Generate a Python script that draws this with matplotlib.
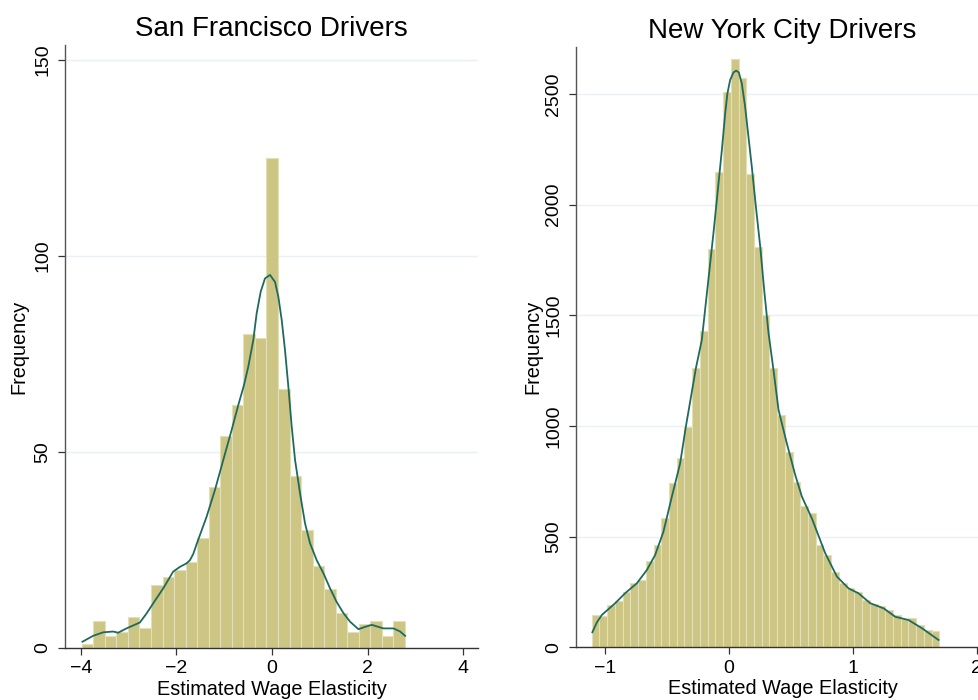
import numpy as np
import matplotlib
matplotlib.use("Agg")
import matplotlib.pyplot as plt

plt.rcParams['font.family'] = ['Liberation Sans', 'DejaVu Sans']

# ---------------- data ----------------
sf_title = "San Francisco Drivers"
nyc_title = "New York City Drivers"
x_label = "Estimated Wage Elasticity"
y_label = "Frequency"

sf_bin_start = -3.98
sf_bin_width = 0.2415
sf_counts = [1, 7, 3, 4, 8, 5, 16, 18, 20, 22, 28, 41, 54, 62, 80, 79, 125,
             66, 44, 30, 21, 15, 9, 4, 6, 7, 3, 7]
sf_kde_x = [-3.965, -3.742, -3.532, -3.323, -3.218, -3.044, -2.764, -2.625, -2.485,
            -2.276, -2.067, -1.927, -1.787, -1.717, -1.647, -1.577, -1.368, -1.194,
            -1.019, -0.845, -0.705, -0.586, -0.496, -0.391, -0.321, -0.237, -0.147,
            -0.042, 0.063, 0.133, 0.203, 0.272, 0.342, 0.412, 0.482, 0.586, 0.691,
            0.796, 0.935, 1.075, 1.215, 1.350, 1.494, 1.634, 1.808, 1.948, 2.087,
            2.331, 2.541, 2.681, 2.785]
sf_kde_y = [1.6, 3.1, 4.0, 4.2, 3.9, 5.0, 6.5, 8.8, 11.4,
            15.2, 19.5, 20.7, 21.6, 22.4, 24.0, 26.5, 33.5, 40.3,
            48.0, 55.6, 62.0, 67.1, 71.8, 78.6, 85.4, 90.9, 94.3,
            95.2, 93.4, 89.6, 83.7, 76.0, 66.7, 56.5, 48.0, 39.5, 31.8,
            26.7, 22.4, 19.1, 15.2, 11.8, 8.9, 6.7, 4.8, 5.4, 5.9,
            5.0, 5.0, 4.2, 3.1]
sf_xticks = [-4, -2, 0, 2, 4]
sf_yticks = [0, 50, 100, 150]

nyc_bin_start = -1.110
nyc_bin_width = 0.0624
nyc_counts = [146, 141, 191, 211, 251, 289, 304, 390, 462, 585, 741, 854, 996,
              1260, 1430, 1798, 2146, 2507, 2656, 2570, 2137, 1810, 1501, 1260,
              1049, 881, 748, 638, 605, 462, 417, 339, 289, 266, 251, 214, 196,
              187, 168, 146, 126, 131, 101, 78, 74]
nyc_kde_x = [-1.105, -1.070, -1.029, -0.921, -0.841, -0.746, -0.665, -0.598, -0.531,
             -0.463, -0.396, -0.350, -0.269, -0.221, -0.127, -0.086, -0.059, -0.032,
             -0.014, 0.008, 0.035, 0.057, 0.078, 0.102, 0.129, 0.156, 0.183, 0.216,
             0.251, 0.283, 0.318, 0.358, 0.399, 0.466, 0.534, 0.588, 0.668, 0.776,
             0.871, 0.965, 1.045, 1.140, 1.248, 1.342, 1.450, 1.558, 1.692]
nyc_kde_y = [68, 111, 146, 199, 244, 289, 349, 417, 522,
             680, 831, 996, 1260, 1388, 1870, 2096, 2246, 2412,
             2502, 2563, 2597, 2605, 2597, 2548, 2442, 2306, 2171, 1990,
             1810, 1614, 1420, 1253, 1072, 921, 778, 680, 583, 425,
             319, 266, 244, 199, 176, 138, 123, 86, 33]
nyc_xticks = [-1, 0, 1, 2]
nyc_yticks = [0, 500, 1000, 1500, 2000, 2500]

# ---------------- style ----------------
BAR = '#CCC584'
BAR_EDGE = '#E3DFB6'
LINE = '#1F6A5E'
GRID = '#EAF0F3'

fig = plt.figure(figsize=(9.79, 7.0), dpi=100)
ax1 = fig.add_axes([0.0664, 0.0743, 0.4219, 0.861])
ax2 = fig.add_axes([0.5884, 0.0753, 0.4219, 0.857])


def draw(ax, start, width, counts, kx, ky, xticks, yticks, xlim, ylim, title, ylabelpad):
    n = len(counts)
    lefts = start + width * np.arange(n)
    ax.bar(lefts, counts, width=width, align='edge', color=BAR,
           edgecolor=BAR_EDGE, linewidth=0.8, zorder=2)
    ax.plot(kx, ky, color=LINE, linewidth=1.3, zorder=3,
            solid_joinstyle='round')
    ax.set_xlim(*xlim)
    ax.set_ylim(*ylim)
    ax.set_xticks(xticks)
    ax.set_yticks(yticks)
    ax.set_xticklabels([("\u2212" + str(abs(t))) if t < 0 else str(t) for t in xticks])
    ax.set_yticklabels([str(t) for t in yticks], rotation=90, va='center')
    for t in yticks:
        ax.axhline(t, color=GRID, linewidth=1.0, zorder=1)
    for s in ['top', 'right']:
        ax.spines[s].set_visible(False)
    ax.spines['left'].set_color('#555555')
    ax.spines['bottom'].set_color('#333333')
    ax.spines['left'].set_linewidth(1.0)
    ax.spines['bottom'].set_linewidth(1.0)
    ax.tick_params(axis='both', direction='out', length=5, width=0.9,
                   color='#333333', labelsize=14)
    ax.tick_params(axis='x', pad=4)
    ax.tick_params(axis='y', pad=5)
    ax.set_title(title, fontsize=20, pad=7)
    ax.set_xlabel(x_label, fontsize=14.3, labelpad=1.5)
    ax.set_ylabel(y_label, fontsize=14.3, labelpad=ylabelpad)


draw(ax1, sf_bin_start, sf_bin_width, sf_counts, sf_kde_x, sf_kde_y,
     sf_xticks, sf_yticks, (-4.33, 4.31), (0, 153.8), sf_title, 4)
draw(ax2, nyc_bin_start, nyc_bin_width, nyc_counts, nyc_kde_x, nyc_kde_y,
     nyc_xticks, nyc_yticks, (-1.237, 2.10), (0, 2710), nyc_title, 2)

fig.savefig('out.png', dpi=100)
